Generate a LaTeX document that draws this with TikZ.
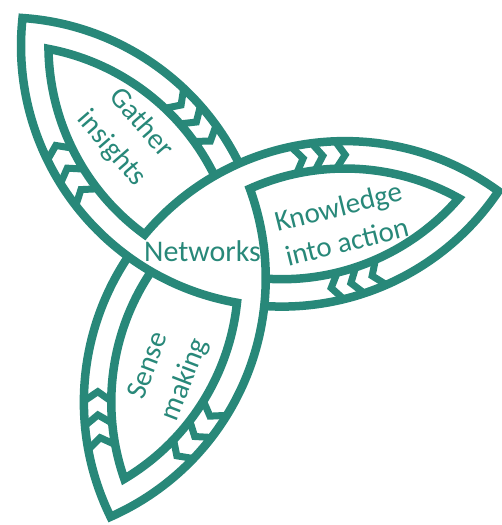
\documentclass[tikz,border=0pt]{standalone}
\usepackage{fontspec}
\setmainfont{Carlito}
\definecolor{leaf}{RGB}{40,136,121}
\begin{document}
\begin{tikzpicture}[x=1pt,y=-1pt,
  band/.style={draw=leaf, line width=8.5pt, line join=miter},
  chev/.style={draw=leaf, line width=7pt, line join=miter},
  lbl/.style={text=leaf, font=\fontsize{29}{39}\selectfont, align=center, inner sep=0pt}]
\useasboundingbox (0,0) rectangle (502,525);
% Three identical interlaced arc strands, each turned by 120 degrees
\foreach \rot in {130,10,-110}{
  \begin{scope}[shift={(210.5,242)}, rotate=\rot]
    \draw[band] (104.45,180.91) ++(-136.10:260.9)
       arc[start angle=-136.10, end angle=-196.10, radius=260.9]
       arc[start angle=76.10, end angle=-10.08, radius=260.9]
       arc[start angle=-104.00, end angle=-50.79, radius=233.5]
       arc[start angle=50.79, end angle=104.00, radius=233.5];
  \end{scope}
}
% Chevron groups inside the bands (arc centres of the three circles)
\coordinate (ca) at (281.95,45.70);
\coordinate (cb) at (344.78,402.03);
\coordinate (cc) at (4.77,278.28);
\foreach \c/\angs in {ca/{154.0,148.1,142.2}, ca/{76.3,71.6,66.4},
                      cb/{-101.9,-97.3,-92.1}, cb/{180.2,174.8,169.5},
                      cc/{-46.7,-41.4,-35.9}, cc/{31.7,37.6,43.7}}{
  \begin{scope}[shift={(\c)}]
    \foreach \a in \angs
      \draw[chev] ({\a}:233.5) -- ({\a+2.2}:247.2) -- ({\a}:260.9);
  \end{scope}
}
% Labels
\node[lbl, rotate=-49] (gather) at (126,136) {Gather\\insights};
\node[lbl, font=\fontsize{30}{39}\selectfont] (net) at (202.5,251.5) {Networks};
\node[lbl, rotate=14, font=\fontsize{29}{36}\selectfont] (know) at (342.5,224) {Knowledge\\into action};
\node[lbl, rotate=69] (sense) at (167.5,373) {Sense\\making};
\end{tikzpicture}
\end{document}
